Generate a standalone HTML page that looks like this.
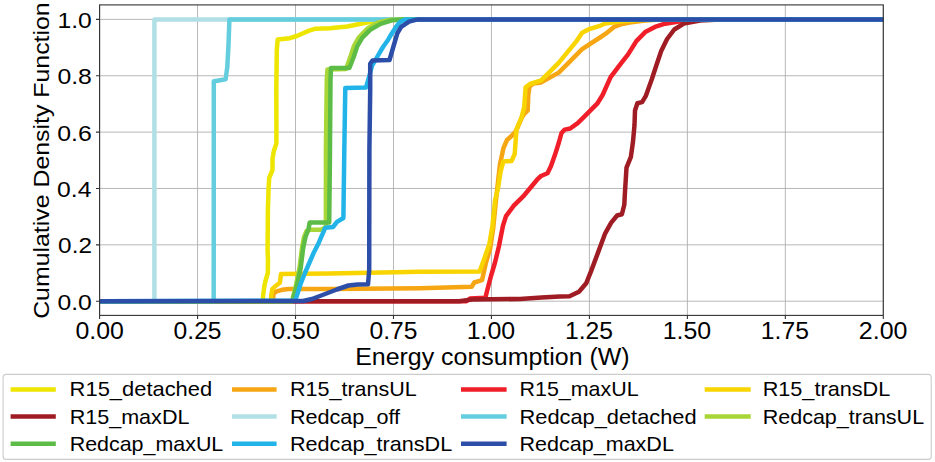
<!DOCTYPE html><html><head><meta charset="utf-8"><style>html,body{margin:0;padding:0;background:#fff;overflow:hidden}svg{display:block}text{font-family:"Liberation Sans",sans-serif;fill:#000}</style></head><body>
<svg width="935" height="462" viewBox="0 0 935 462">
<rect x="0" y="0" width="935" height="462" fill="#fff"/>
<defs><clipPath id="ax"><rect x="99.6" y="4.9" width="783.6999999999999" height="310.5"/></clipPath></defs>
<path d="M99.60 4.9V315.4M197.56 4.9V315.4M295.52 4.9V315.4M393.49 4.9V315.4M491.45 4.9V315.4M589.41 4.9V315.4M687.38 4.9V315.4M785.34 4.9V315.4M883.30 4.9V315.4M99.6 301.20H883.3M99.6 244.84H883.3M99.6 188.48H883.3M99.6 132.12H883.3M99.6 75.76H883.3M99.6 19.40H883.3" stroke="#b0b0b0" stroke-width="0.9" fill="none"/>
<g clip-path="url(#ax)" fill="none" stroke-width="4.50" stroke-linejoin="round" stroke-linecap="square">
<path d="M100.0 301.2 L263.0 301.2 L263.1 295.7 L264.2 287.0 L265.3 281.6 L267.8 273.0 L268.0 260.0 L267.6 250.0 L267.9 209.0 L268.6 188.2 L269.2 177.8 L272.5 170.0 L272.5 159.0 L273.8 151.2 L276.4 143.4 L276.4 120.0 L276.3 90.0 L276.8 50.0 L277.7 39.4 L289.8 38.2 L296.8 36.0 L309.7 30.4 L315.8 28.7 L330.0 28.2 L347.3 26.5 L364.6 23.0 L378.5 20.4 L390.0 19.4 L884.0 19.4" stroke="#eee600"/>
<path d="M100.0 301.2 L273.0 301.2 L273.4 293.5 L276.6 291.4 L282.0 289.8 L288.5 288.9 L330.0 289.0 L420.0 288.2 L471.7 286.7 L474.3 282.5 L482.0 280.2 L484.0 271.6 L486.0 262.5 L490.0 249.5 L493.0 230.0 L496.0 200.0 L500.0 164.0 L503.5 148.0 L507.0 140.0 L512.1 135.5 L516.0 131.0 L521.6 118.0 L524.2 113.9 L527.7 110.4 L528.3 95.0 L529.5 86.5 L533.4 83.4 L541.2 82.4 L558.7 72.6 L568.5 62.9 L582.1 49.2 L600.0 37.5 L605.4 33.9 L614.0 26.9 L621.0 24.3 L629.6 22.6 L645.0 20.5 L660.0 19.5 L884.0 19.4" stroke="#f5a612"/>
<path d="M100.0 301.2 L466.4 301.2 L470.0 298.6 L485.4 297.7 L487.3 290.0 L491.0 276.0 L495.0 262.5 L499.0 246.0 L502.9 226.0 L506.0 216.1 L513.8 205.7 L524.2 195.3 L537.1 179.7 L541.0 176.0 L547.5 173.2 L551.0 166.0 L555.3 153.8 L559.0 142.0 L561.5 133.0 L564.7 129.6 L570.2 128.5 L577.7 123.1 L585.3 115.6 L590.7 110.2 L597.2 103.7 L602.6 95.0 L610.6 77.1 L621.0 63.3 L627.9 54.6 L636.6 40.8 L645.2 32.1 L654.9 26.9 L663.5 24.1 L679.0 21.5 L690.0 20.2 L705.0 19.5 L884.0 19.4" stroke="#f01e28"/>
<path d="M100.0 301.2 L271.0 301.2 L271.2 295.7 L272.3 289.2 L275.6 286.0 L279.9 282.7 L281.0 274.1 L330.0 273.6 L420.0 271.8 L479.5 271.6 L482.0 265.0 L484.5 258.0 L489.3 244.2 L492.5 226.0 L495.1 200.0 L497.9 189.0 L500.5 172.0 L503.3 161.5 L511.5 161.0 L514.7 154.0 L516.5 129.4 L521.6 117.3 L524.2 106.9 L525.6 87.3 L530.0 84.0 L541.2 80.4 L558.7 62.9 L576.3 41.4 L582.1 32.7 L589.9 28.8 L600.0 25.8 L605.4 23.5 L620.0 21.5 L640.0 20.0 L660.0 19.4 L884.0 19.4" stroke="#f8d400"/>
<path d="M100.0 301.2 L459.0 301.2 L472.0 299.5 L520.0 299.0 L541.6 297.5 L560.0 296.6 L569.5 296.2 L579.0 291.7 L586.2 283.3 L591.0 271.4 L598.1 252.4 L605.2 233.3 L611.2 222.6 L617.1 215.5 L621.9 214.3 L624.3 204.8 L624.8 195.0 L626.5 167.6 L630.9 156.8 L633.0 141.6 L634.5 125.0 L635.0 110.5 L637.4 103.3 L642.1 102.1 L645.7 96.2 L651.7 79.5 L656.4 65.2 L661.2 51.0 L667.1 39.0 L674.3 29.5 L683.8 23.6 L700.0 20.5 L720.0 19.5 L884.0 19.4" stroke="#a01c24"/>
<path d="M100.0 301.2 L154.4 301.2 L154.4 19.4 L884.0 19.4" stroke="#b0e0e6"/>
<path d="M100.0 301.2 L213.7 301.2 L213.8 81.3 L214.2 81.3 L225.6 79.2 L227.3 67.0 L228.5 44.6 L229.4 19.5 L884.0 19.4" stroke="#64cede"/>
<path d="M100.0 301.2 L292.0 301.2 L296.0 285.0 L299.5 268.0 L302.0 248.0 L304.0 237.0 L306.5 231.0 L311.0 229.7 L321.4 229.7 L325.9 227.0 L325.9 150.0 L326.8 80.0 L327.5 69.5 L346.0 69.0 L350.5 56.5 L354.0 46.0 L359.2 37.0 L367.5 28.5 L378.0 22.5 L391.0 19.8 L405.0 19.4 L884.0 19.4" stroke="#a8d636"/>
<path d="M100.0 301.2 L292.4 301.2 L297.0 285.0 L300.7 268.0 L303.2 248.0 L305.5 237.0 L308.5 229.0 L309.7 222.5 L329.2 222.5 L329.9 160.0 L330.5 80.0 L331.0 68.0 L349.4 68.0 L353.8 56.8 L357.2 46.4 L362.4 37.7 L370.2 29.9 L380.6 23.9 L392.7 20.2 L405.0 19.4 L884.0 19.4" stroke="#5cbc46"/>
<path d="M100.0 301.2 L295.2 300.6 L297.8 292.9 L300.4 284.5 L304.5 274.0 L308.4 265.0 L313.6 253.0 L318.8 242.7 L322.7 233.6 L325.3 227.7 L333.0 227.0 L337.0 221.9 L343.4 218.0 L344.3 150.0 L345.3 88.0 L366.0 87.5 L369.0 77.0 L372.0 66.0 L378.0 55.5 L383.0 47.0 L388.0 40.0 L391.0 34.7 L396.0 27.0 L400.0 22.0 L405.0 19.5 L884.0 19.4" stroke="#22b4e8"/>
<path d="M99.0 301.2 L303.0 301.0 L312.0 299.0 L323.8 294.5 L336.8 289.5 L348.4 285.5 L357.5 284.6 L368.0 284.2 L369.2 270.0 L369.4 150.0 L370.2 90.0 L370.2 63.7 L372.5 60.5 L389.5 60.0 L392.7 49.0 L397.3 33.4 L401.2 26.9 L409.0 21.7 L416.8 19.6 L430.0 19.4 L884.0 19.4" stroke="#2c4ea8"/>
</g>
<rect x="99.6" y="4.9" width="783.70" height="310.50" fill="none" stroke="#333" stroke-width="1.1"/>
<path d="M99.60 315.4v3.6M197.56 315.4v3.6M295.52 315.4v3.6M393.49 315.4v3.6M491.45 315.4v3.6M589.41 315.4v3.6M687.38 315.4v3.6M785.34 315.4v3.6M883.30 315.4v3.6M99.6 301.20h-3.6M99.6 244.84h-3.6M99.6 188.48h-3.6M99.6 132.12h-3.6M99.6 75.76h-3.6M99.6 19.40h-3.6" stroke="#333" stroke-width="1.1" fill="none"/>
<text x="75.43" y="339.30" font-size="23.11" textLength="48.40" lengthAdjust="spacingAndGlyphs">0.00</text>
<text x="173.60" y="339.30" font-size="23.11" textLength="47.98" lengthAdjust="spacingAndGlyphs">0.25</text>
<text x="271.36" y="339.30" font-size="23.11" textLength="48.40" lengthAdjust="spacingAndGlyphs">0.50</text>
<text x="369.53" y="339.30" font-size="23.11" textLength="47.98" lengthAdjust="spacingAndGlyphs">0.75</text>
<text x="466.76" y="339.30" font-size="23.11" textLength="48.47" lengthAdjust="spacingAndGlyphs">1.00</text>
<text x="564.94" y="339.30" font-size="23.11" textLength="48.05" lengthAdjust="spacingAndGlyphs">1.25</text>
<text x="662.68" y="339.30" font-size="23.11" textLength="48.47" lengthAdjust="spacingAndGlyphs">1.50</text>
<text x="760.86" y="339.30" font-size="23.11" textLength="48.05" lengthAdjust="spacingAndGlyphs">1.75</text>
<text x="858.85" y="339.30" font-size="23.11" textLength="48.63" lengthAdjust="spacingAndGlyphs">2.00</text>
<text x="57.42" y="309.60" font-size="22.66" textLength="34.32" lengthAdjust="spacingAndGlyphs">0.0</text>
<text x="58.14" y="253.24" font-size="22.66" textLength="33.80" lengthAdjust="spacingAndGlyphs">0.2</text>
<text x="57.12" y="196.88" font-size="22.66" textLength="34.29" lengthAdjust="spacingAndGlyphs">0.4</text>
<text x="57.31" y="140.52" font-size="22.66" textLength="34.54" lengthAdjust="spacingAndGlyphs">0.6</text>
<text x="57.42" y="84.16" font-size="22.66" textLength="34.43" lengthAdjust="spacingAndGlyphs">0.8</text>
<text x="57.45" y="27.80" font-size="22.66" textLength="34.29" lengthAdjust="spacingAndGlyphs">1.0</text>
<text x="355.17" y="364.80" font-size="23.33" textLength="274.43" lengthAdjust="spacingAndGlyphs">Energy consumption (W)</text>
<text transform="translate(49.0,318.84) rotate(-90)" font-size="22.00" textLength="316.54" lengthAdjust="spacingAndGlyphs">Cumulative Density Function</text>
<rect x="3.1" y="374.4" width="928.1" height="85" rx="3" ry="3" fill="#fff" fill-opacity="0.8" stroke="#cccccc" stroke-width="1.1"/>
<path d="M12.85 389.4H53.55" stroke="#eee600" stroke-width="4.5" stroke-linecap="square"/>
<text x="69.63" y="396.40" font-size="21.00" textLength="142.55" lengthAdjust="spacingAndGlyphs">R15_detached</text>
<path d="M12.85 416.6H53.55" stroke="#a01c24" stroke-width="4.5" stroke-linecap="square"/>
<text x="69.66" y="423.60" font-size="21.00" textLength="119.79" lengthAdjust="spacingAndGlyphs">R15_maxDL</text>
<path d="M12.85 443.8H53.55" stroke="#5cbc46" stroke-width="4.5" stroke-linecap="square"/>
<text x="69.67" y="450.80" font-size="21.00" textLength="153.63" lengthAdjust="spacingAndGlyphs">Redcap_maxUL</text>
<path d="M234.25 389.4H274.35" stroke="#f5a612" stroke-width="4.5" stroke-linecap="square"/>
<text x="289.96" y="396.40" font-size="21.00" textLength="126.80" lengthAdjust="spacingAndGlyphs">R15_transUL</text>
<path d="M234.25 416.6H274.35" stroke="#b0e0e6" stroke-width="4.5" stroke-linecap="square"/>
<text x="289.95" y="423.60" font-size="21.00" textLength="110.08" lengthAdjust="spacingAndGlyphs">Redcap_off</text>
<path d="M234.25 443.8H274.35" stroke="#22b4e8" stroke-width="4.5" stroke-linecap="square"/>
<text x="289.95" y="450.80" font-size="21.00" textLength="162.27" lengthAdjust="spacingAndGlyphs">Redcap_transDL</text>
<path d="M463.25 389.4H504.35" stroke="#f01e28" stroke-width="4.5" stroke-linecap="square"/>
<text x="519.57" y="396.40" font-size="21.00" textLength="119.07" lengthAdjust="spacingAndGlyphs">R15_maxUL</text>
<path d="M463.25 416.6H504.35" stroke="#64cede" stroke-width="4.5" stroke-linecap="square"/>
<text x="519.53" y="423.60" font-size="21.00" textLength="177.10" lengthAdjust="spacingAndGlyphs">Redcap_detached</text>
<path d="M463.25 443.8H504.35" stroke="#2c4ea8" stroke-width="4.5" stroke-linecap="square"/>
<text x="519.56" y="450.80" font-size="21.00" textLength="154.34" lengthAdjust="spacingAndGlyphs">Redcap_maxDL</text>
<path d="M706.95 389.4H748.45" stroke="#f8d400" stroke-width="4.5" stroke-linecap="square"/>
<text x="762.65" y="396.40" font-size="21.00" textLength="127.61" lengthAdjust="spacingAndGlyphs">R15_transDL</text>
<path d="M706.95 416.6H748.45" stroke="#a8d636" stroke-width="4.5" stroke-linecap="square"/>
<text x="762.66" y="423.60" font-size="21.00" textLength="161.46" lengthAdjust="spacingAndGlyphs">Redcap_transUL</text>
</svg></body></html>
